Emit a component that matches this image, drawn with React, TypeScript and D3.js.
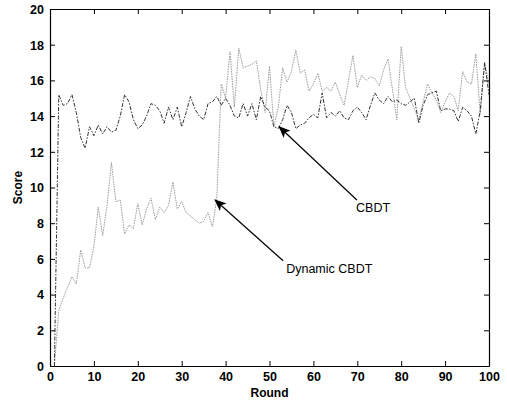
import { useEffect, useRef } from "react";
import * as d3 from "d3";

// rounds 1..100
const rounds = d3.range(1, 101);

const cbdt = [
  0, 15.2, 14.6, 14.7, 15.2, 14.2, 12.8, 12.2, 13.4, 12.9,
  13.5, 13.0, 13.4, 13.1, 13.2, 14.0, 15.2, 14.8, 13.8, 13.3,
  13.5, 14.0, 14.7, 14.6, 14.3, 13.6, 14.5, 13.8, 14.5, 13.4,
  14.2, 15.1, 14.4, 14.0, 13.8, 14.7, 14.8, 15.1, 14.6, 15.0,
  14.6, 14.0, 13.9, 14.7, 14.0, 14.7, 13.8, 15.1, 14.5, 14.3,
  13.4, 13.3, 13.8, 14.6, 14.2, 13.3, 13.5, 13.6, 13.9, 14.1,
  13.9, 15.3, 13.9, 14.2, 14.0, 14.3, 13.9, 13.8, 14.3, 14.5,
  14.2, 13.8, 14.6, 15.3, 14.9, 14.7, 15.1, 14.8, 14.9, 14.7,
  14.6, 14.8, 15.0, 13.6, 14.6, 15.2, 15.3, 15.4, 14.3, 14.4,
  14.4, 14.3, 13.7, 14.5, 14.3, 14.0, 13.0, 14.3, 17.0, 15.2,
];

const dynamicCbdt = [
  0, 3.1, 3.8, 4.4, 5.0, 4.6, 6.5, 5.5, 5.5, 6.7,
  8.9, 7.3, 9.0, 11.4, 9.2, 9.3, 7.4, 7.9, 7.7, 9.1,
  7.9, 8.8, 9.4, 8.2, 8.9, 8.6, 9.0, 10.3, 8.8, 9.2,
  8.6, 8.4, 8.2, 8.0, 8.1, 8.6, 7.8, 9.4, 15.8, 15.0,
  17.6, 14.5, 17.8, 16.7, 16.8, 16.9, 17.1, 15.5, 14.2, 16.8,
  13.4, 14.5, 16.7, 15.9, 16.5, 17.7, 16.4, 16.6, 15.4, 15.8,
  16.4, 15.4, 15.6, 15.4, 15.9, 15.2, 14.6, 16.0, 17.4, 15.6,
  16.3, 16.0, 16.2, 16.1, 15.7, 16.6, 17.2, 15.5, 13.8, 17.9,
  15.6, 15.0, 14.4, 13.8, 14.8, 15.8, 15.3, 14.9, 14.2, 14.8,
  15.3, 15.1, 14.3, 16.5, 15.9, 15.8, 17.5, 14.1, 17.0, 15.8,
];

const xTicks = [0, 10, 20, 30, 40, 50, 60, 70, 80, 90, 100];
const yTicks = [0, 2, 4, 6, 8, 10, 12, 14, 16, 18, 20];

// annotation text + arrow (data units: [round, score])
const notes = [
  { label: "CBDT", text: [73.6, 8.6], from: [69.9, 9.3], to: [52.2, 13.4], anchor: "middle" },
  { label: "Dynamic CBDT", text: [53.8, 5.2], from: [53.1, 5.9], to: [37.6, 9.3], anchor: "start" },
];

const W = 507;
const H = 402;

const App = () => {
  const svgRef = useRef(null);

  useEffect(() => {
    const svg = d3.select(svgRef.current);
    svg.selectAll("*").remove();

    const m = { left: 50, right: 18, top: 9, bottom: 36 };
    const x = d3.scaleLinear([0, 100], [m.left, W - m.right]);
    const y = d3.scaleLinear([0, 20], [H - m.bottom, m.top]);
    const font = "Liberation Sans, Arial, sans-serif";

    svg.append("rect").attr("width", W).attr("height", H).attr("fill", "white");

    const defs = svg.append("defs");
    defs.append("marker")
      .attr("id", "head")
      .attr("viewBox", "0 0 12 10")
      .attr("refX", 11).attr("refY", 5)
      .attr("markerWidth", 12).attr("markerHeight", 10)
      .attr("markerUnits", "userSpaceOnUse")
      .attr("orient", "auto")
      .append("path")
      .attr("d", "M0,0 L12,5 L0,10 L3,5 z")
      .attr("fill", "black");

    // lines
    const line = (vals) => d3.line()
      .x((d, i) => x(rounds[i]))
      .y((d) => y(d))(vals);

    svg.append("path")
      .attr("d", line(dynamicCbdt))
      .attr("fill", "none")
      .attr("stroke", "#9a9a9a")
      .attr("stroke-width", 1)
      .attr("stroke-dasharray", "1.5,1");

    svg.append("path")
      .attr("d", line(cbdt))
      .attr("fill", "none")
      .attr("stroke", "#333")
      .attr("stroke-width", 1)
      .attr("stroke-dasharray", "4,1.5,1.5,1.5");

    // box axes, ticks inward on all sides
    const xb = svg.append("g").attr("transform", `translate(0,${y(0)})`)
      .call(d3.axisBottom(x).tickValues(xTicks).tickSizeInner(-5).tickSizeOuter(0).tickPadding(6));
    const xt = svg.append("g").attr("transform", `translate(0,${y(20)})`)
      .call(d3.axisTop(x).tickValues(xTicks).tickSizeInner(-5).tickSizeOuter(0).tickFormat(() => ""));
    const yl = svg.append("g").attr("transform", `translate(${x(0)},0)`)
      .call(d3.axisLeft(y).tickValues(yTicks).tickSizeInner(-5).tickSizeOuter(0).tickPadding(6));
    const yr = svg.append("g").attr("transform", `translate(${x(100)},0)`)
      .call(d3.axisRight(y).tickValues(yTicks).tickSizeInner(-5).tickSizeOuter(0).tickFormat(() => ""));

    [xb, xt, yl, yr].forEach((g) => {
      g.selectAll("path").attr("stroke", "black").attr("stroke-width", 1.2);
      g.selectAll("line").attr("stroke", "black");
      g.selectAll("text")
        .attr("fill", "black")
        .style("font-family", font)
        .style("font-size", "12.5px")
        .style("font-weight", "bold");
    });
    yl.selectAll("text").attr("dy", "0.35em");

    // axis titles
    svg.append("text")
      .attr("x", x(50)).attr("y", 397)
      .attr("text-anchor", "middle")
      .style("font-family", font).style("font-size", "12px").style("font-weight", "bold")
      .text("Round");

    svg.append("text")
      .attr("transform", `translate(22,${y(10)}) rotate(-90)`)
      .attr("text-anchor", "middle")
      .style("font-family", font).style("font-size", "12px").style("font-weight", "bold")
      .text("Score");

    // annotations
    notes.forEach((n) => {
      svg.append("line")
        .attr("x1", x(n.from[0])).attr("y1", y(n.from[1]))
        .attr("x2", x(n.to[0])).attr("y2", y(n.to[1]))
        .attr("stroke", "black")
        .attr("stroke-width", 1.2)
        .attr("marker-end", "url(#head)");
      svg.append("text")
        .attr("x", x(n.text[0])).attr("y", y(n.text[1]))
        .attr("text-anchor", n.anchor)
        .style("font-family", font).style("font-size", "12.5px")
        .text(n.label);
    });
  }, []);

  return (
    <svg
      ref={svgRef}
      width={W}
      height={H}
      style={{ position: "absolute", left: 0, top: 0, display: "block" }}
    ></svg>
  );
};

export default App;
